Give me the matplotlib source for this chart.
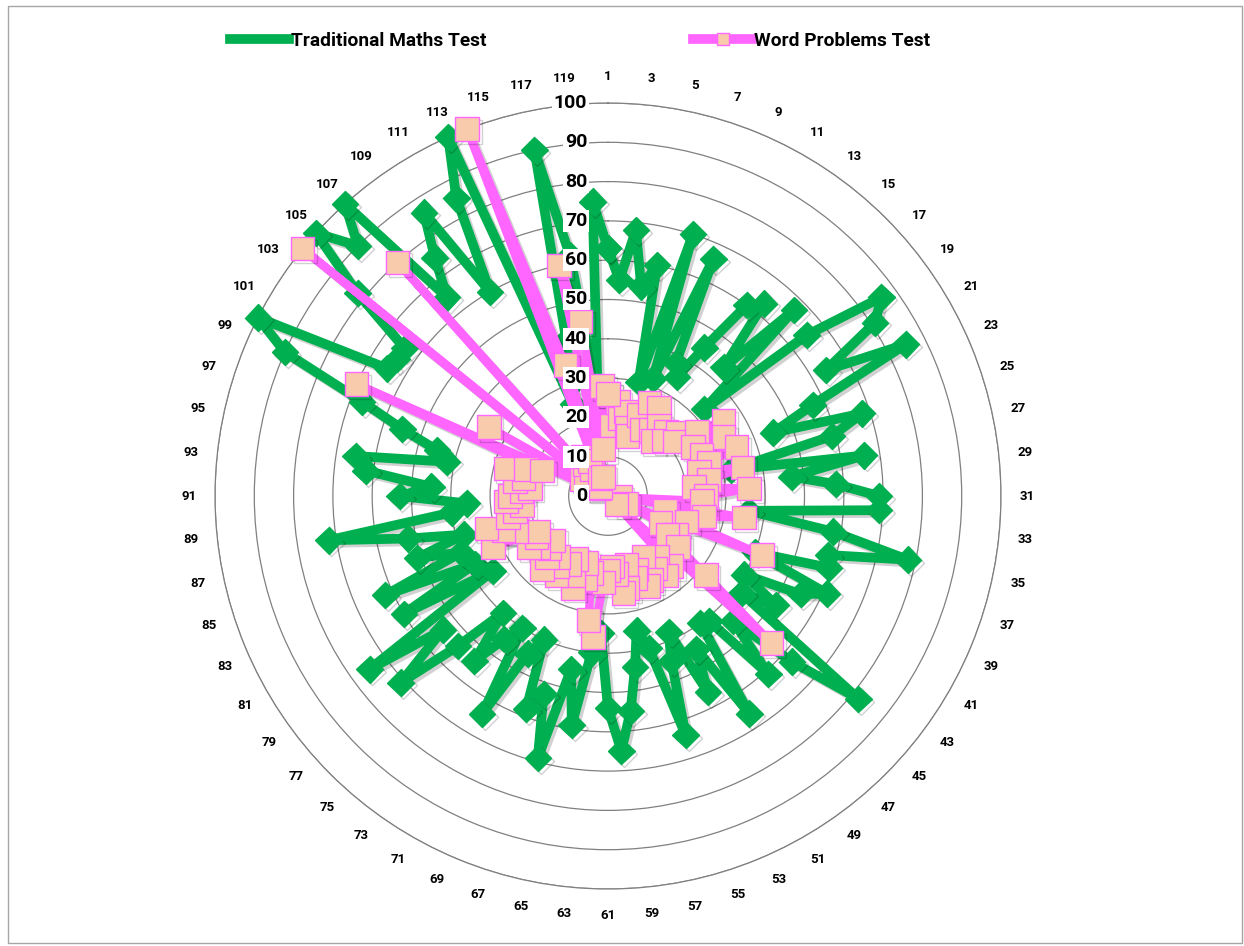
import numpy as np
import matplotlib
matplotlib.use("Agg")
import matplotlib.pyplot as plt
import matplotlib.patheffects as pe
from matplotlib.lines import Line2D
from matplotlib.patches import Rectangle

plt.rcParams['font.family'] = ['Roboto', 'DejaVu Sans']

# categories 1..120 (only odd ones are labelled)
categorias = list(range(1, 121))

maths = [63, 55, 68, 54, 60, 30, 70, 32, 66, 38,
         35, 45, 60, 63, 44, 67, 33, 65, 86, 81,
         64, 85, 57, 45, 68, 59, 32, 66, 47, 58,
         69, 69, 36, 58, 78, 58, 59, 40, 61, 55,
         40, 51, 42, 82, 63, 45, 61, 41, 40, 66,
         45, 56, 38, 45, 64, 40, 35, 44, 55, 65,
         54, 35, 40, 59, 45, 69, 53, 58, 40, 45,
         64, 40, 45, 54, 40, 54, 71, 54, 75, 35,
         60, 38, 62, 40, 51, 38, 52, 72, 40, 36,
         53, 45, 62, 65, 42, 45, 55, 67, 90, 100,
         65, 64, 64, 82, 100, 90, 100, 65, 75, 86,
         60, 85, 100, 25, 30, 41, 90, 62, 25, 75]

words = [26, 18, 24, 20, 22, 18, 16, 22, 26, 19,
         26, 20, 22, 18, 22, 20, 24, 22, 28, 35,
         25, 33, 26, 35, 27, 24, 35, 26, 22, 36,
         25, 24, 3, 35, 25, 15, 21, 42, 5, 15,
         20, 18, 22, 32, 56, 3, 24, 20, 25, 22,
         18, 24, 25, 20, 22, 18, 24, 25, 20, 18,
         19, 22, 36, 32, 20, 22, 18, 25, 22, 18,
         20, 24, 22, 20, 25, 22, 20, 18, 22, 24,
         21, 20, 32, 25, 28, 32, 26, 24, 22, 26,
         25, 22, 20, 24, 22, 27, 22, 18, 70, 5,
         35, 8, 5, 100, 3, 8, 80, 3, 10, 12,
         8, 10, 5, 100, 35, 5, 60, 45, 12, 28]

radios = list(range(0, 101, 10))
series = ['Traditional Maths Test', 'Word Problems Test']

verde = '#00B050'
rosa = '#FF66FF'
durazno = '#F8CBAD'

n = len(categorias)
angulos = np.linspace(0, 2 * np.pi, n, endpoint=False)
ang_c = np.append(angulos, angulos[0])
m_c = np.append(maths, maths[0])
w_c = np.append(words, words[0])

fig = plt.figure(figsize=(12.44, 9.46), dpi=100)
ax = fig.add_axes([215 / 1244, (946 - 496 - 393) / 946, 786 / 1244, 786 / 946],
                  projection='polar')
ax.set_theta_zero_location('N')
ax.set_theta_direction(-1)
ax.set_ylim(0, 100)

sombra = [pe.SimpleLineShadow(offset=(2, -2), shadow_color='k', alpha=0.18), pe.Normal()]

ax.plot(ang_c, m_c, color=verde, linewidth=7, marker='D', markersize=13.5,
        markerfacecolor=verde, markeredgecolor=verde, zorder=3,
        path_effects=sombra, clip_on=False)
ax.plot(ang_c, w_c, color=rosa, linewidth=6, marker='s', markersize=17,
        markerfacecolor=durazno, markeredgecolor=rosa, markeredgewidth=1,
        zorder=4, path_effects=sombra, clip_on=False)

# grid
ax.set_yticks(radios[1:])
ax.set_yticklabels([])
ax.yaxis.grid(True, color='#808080', linewidth=0.9)
ax.xaxis.grid(False)
ax.spines['polar'].set_color('#808080')
ax.spines['polar'].set_linewidth(0.9)

ax.set_xticks(angulos[::2])
ax.set_xticklabels([str(c) for c in categorias[::2]], fontsize=9.5, fontweight='bold')
ax.tick_params(axis='x', pad=12, length=0)

for r in radios:
    ax.annotate(str(r), xy=(0, r), xytext=(-15, 0), textcoords='offset points',
                ha='right', va='center', fontsize=14, fontweight='bold', zorder=10,
                bbox=dict(boxstyle='square,pad=0.1', fc='white', ec='none'))

h_verde = Line2D([], [], color=verde, linewidth=7, marker='D', markersize=3,
                 markerfacecolor=verde, markeredgecolor=verde)
h_rosa = Line2D([], [], color=rosa, linewidth=7, marker='s', markersize=8,
                markerfacecolor=durazno, markeredgecolor=rosa)
for h, lab, x0 in [(h_verde, series[0], 230), (h_rosa, series[1], 693)]:
    fig.legend([h], [lab], loc='center left', bbox_to_anchor=(x0 / 1244, 1 - 41 / 946),
               frameon=False, borderpad=0, borderaxespad=0,
               handlelength=3.1, handletextpad=0.1,
               prop={'weight': 'bold', 'size': 13.8})

fig.add_artist(Rectangle((8 / 1244, 3 / 946), 1234 / 1244, 937 / 946,
                         transform=fig.transFigure, fill=False,
                         edgecolor='#a6a6a6', linewidth=1))

fig.savefig('out.png', dpi=100)
